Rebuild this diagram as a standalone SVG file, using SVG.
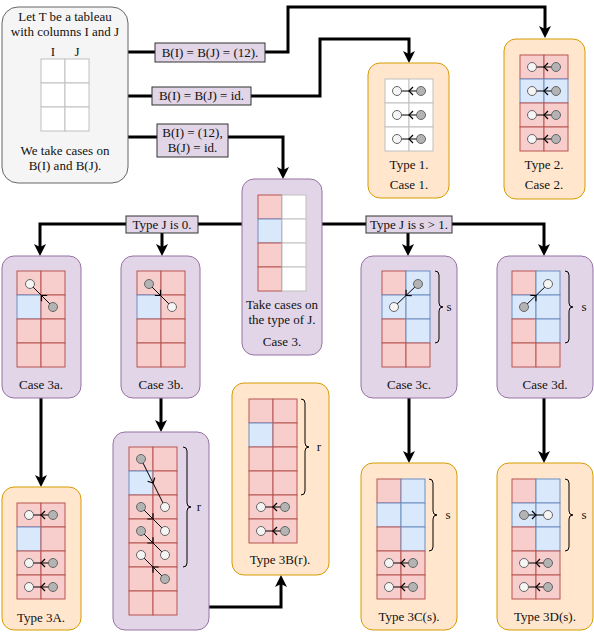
<svg xmlns="http://www.w3.org/2000/svg" width="594" height="633" viewBox="0 0 594 633">
<defs>
<style>
.t{font-family:"Liberation Serif",serif;font-size:13px;fill:#111;text-anchor:middle}
.r{fill:#f8cecc;stroke:#b85450;stroke-width:1}
.b{fill:#dae8fc;stroke:#6c8ebf;stroke-width:1}
.w{fill:#fff;stroke:#c0c0c0;stroke-width:1}
.cw{fill:#f5f5f5;stroke:#666;stroke-width:1}
.cg{fill:#b3b3b3;stroke:#666;stroke-width:1}
.pu{fill:#e1d5e7;stroke:#9673a6;stroke-width:1}
.or{fill:#ffe6cc;stroke:#d79b00;stroke-width:1}
.gr{fill:#f5f5f5;stroke:#666;stroke-width:1}
.lbl{fill:#e1d5e7;stroke:#333;stroke-width:1}
.conn{fill:none;stroke:#000;stroke-width:3;marker-end:url(#ah)}
.sa{fill:none;stroke:#000;stroke-width:1;marker-mid:url(#sm)}
.br{fill:none;stroke:#000;stroke-width:1}
</style>
<marker id="ah" markerUnits="userSpaceOnUse" viewBox="0 0 12 12" refX="6" refY="6" markerWidth="12" markerHeight="12" orient="auto">
<path d="M0,0 L12,6 L0,12 L3,6 Z" fill="#000"/>
</marker>
<marker id="sm" markerUnits="userSpaceOnUse" viewBox="-6 -6 12 12" refX="0" refY="0" markerWidth="12" markerHeight="12" orient="auto">
<path d="M-4,-4 L0,0 L-4,4" fill="none" stroke="#000" stroke-width="1.2"/>
</marker>
</defs>
<rect width="594" height="633" fill="#fff"/>

<g id="connectors">
<path class="conn" d="M128,52 H288 V7 H545 V32"/>
<path class="conn" d="M128,96 H320 V39 H409 V57"/>
<path class="conn" d="M128,137 H283 V173"/>
<path class="conn" d="M242,224 H40 V250"/>
<path class="conn" d="M162,224 V250"/>
<path class="conn" d="M322,224 H544 V250"/>
<path class="conn" d="M408,224 V250"/>
<path class="conn" d="M41,398 V481"/>
<path class="conn" d="M161,398 V426"/>
<path class="conn" d="M409,398 V457"/>
<path class="conn" d="M544,398 V457"/>
<path class="conn" d="M209,607 H281 V581"/>
<rect class="lbl" x="155" y="43" width="110" height="19"/>
<text class="t" x="210" y="57">B(I) = B(J) = (12).</text>
<rect class="lbl" x="152" y="87" width="99" height="18"/>
<text class="t" x="201.5" y="100">B(I) = B(J) = id.</text>
<rect class="lbl" x="157" y="124" width="71" height="33"/>
<text class="t" x="192.5" y="137">B(I) = (12),</text>
<text class="t" x="192.5" y="152">B(J) = id.</text>
<rect class="lbl" x="126" y="216" width="72" height="17"/>
<text class="t" x="162" y="229">Type J is 0.</text>
<rect class="lbl" x="366" y="216" width="86" height="17"/>
<text class="t" x="409" y="229">Type J is s &gt; 1.</text>
</g>

<g id="start">
<rect class="gr" x="2" y="7" width="126" height="176" rx="16"/>
<text class="t" x="65" y="21">Let T be a tableau</text>
<text class="t" x="65" y="36">with columns I and J</text>
<text class="t" x="53" y="56">I</text>
<text class="t" x="77" y="56">J</text>
<rect class="w" x="41" y="59" width="24" height="24"/><rect class="w" x="65" y="59" width="24" height="24"/>
<rect class="w" x="41" y="83" width="24" height="24"/><rect class="w" x="65" y="83" width="24" height="24"/>
<rect class="w" x="41" y="107" width="24" height="24"/><rect class="w" x="65" y="107" width="24" height="24"/>
<text class="t" x="65" y="155">We take cases on</text>
<text class="t" x="65" y="170">B(I) and B(J).</text>
</g>

<g id="type1">
<rect class="or" x="368" y="63" width="81" height="135" rx="12"/>
<rect class="w" x="385" y="79" width="24" height="24"/><rect class="w" x="409" y="79" width="24" height="24"/>
<rect class="w" x="385" y="103" width="24" height="24"/><rect class="w" x="409" y="103" width="24" height="24"/>
<rect class="w" x="385" y="127" width="24" height="24"/><rect class="w" x="409" y="127" width="24" height="24"/>
<path class="sa" d="M421,91 L409,91 L397,91"/><circle class="cw" cx="397" cy="91" r="4.5"/><circle class="cg" cx="421" cy="91" r="4.5"/>
<path class="sa" d="M421,115 L409,115 L397,115"/><circle class="cw" cx="397" cy="115" r="4.5"/><circle class="cg" cx="421" cy="115" r="4.5"/>
<path class="sa" d="M421,139 L409,139 L397,139"/><circle class="cw" cx="397" cy="139" r="4.5"/><circle class="cg" cx="421" cy="139" r="4.5"/>
<text class="t" x="409" y="169">Type 1.</text>
<text class="t" x="409" y="189">Case 1.</text>
</g>

<g id="type2">
<rect class="or" x="504" y="39" width="81" height="160" rx="12"/>
<rect class="r" x="520" y="55" width="24" height="24"/><rect class="r" x="544" y="55" width="24" height="24"/>
<rect class="b" x="520" y="79" width="24" height="24"/><rect class="b" x="544" y="79" width="24" height="24"/>
<rect class="r" x="520" y="103" width="24" height="24"/><rect class="r" x="544" y="103" width="24" height="24"/>
<rect class="r" x="520" y="127" width="24" height="24"/><rect class="r" x="544" y="127" width="24" height="24"/>
<path class="sa" d="M556,67 L544,67 L532,67"/><circle class="cw" cx="532" cy="67" r="4.5"/><circle class="cg" cx="556" cy="67" r="4.5"/>
<path class="sa" d="M556,91 L544,91 L532,91"/><circle class="cw" cx="532" cy="91" r="4.5"/><circle class="cg" cx="556" cy="91" r="4.5"/>
<path class="sa" d="M556,115 L544,115 L532,115"/><circle class="cw" cx="532" cy="115" r="4.5"/><circle class="cg" cx="556" cy="115" r="4.5"/>
<path class="sa" d="M556,139 L544,139 L532,139"/><circle class="cw" cx="532" cy="139" r="4.5"/><circle class="cg" cx="556" cy="139" r="4.5"/>
<text class="t" x="544" y="169">Type 2.</text>
<text class="t" x="544" y="189">Case 2.</text>
</g>

<g id="case3">
<rect class="pu" x="242" y="179" width="80" height="176" rx="12"/>
<rect class="r" x="258" y="195" width="24" height="24"/><rect class="w" x="282" y="195" width="24" height="24"/>
<rect class="b" x="258" y="219" width="24" height="24"/><rect class="w" x="282" y="219" width="24" height="24"/>
<rect class="r" x="258" y="243" width="24" height="24"/><rect class="w" x="282" y="243" width="24" height="24"/>
<rect class="r" x="258" y="267" width="24" height="24"/><rect class="w" x="282" y="267" width="24" height="24"/>
<text class="t" x="282" y="309">Take cases on</text>
<text class="t" x="282" y="324">the type of J.</text>
<text class="t" x="282" y="346">Case 3.</text>
</g>

<g id="case3a">
<rect class="pu" x="2" y="256" width="79" height="142" rx="12"/>
<rect class="r" x="17" y="271" width="24" height="24"/><rect class="r" x="41" y="271" width="24" height="24"/>
<rect class="b" x="17" y="295" width="24" height="24"/><rect class="r" x="41" y="295" width="24" height="24"/>
<rect class="r" x="17" y="319" width="24" height="24"/><rect class="r" x="41" y="319" width="24" height="24"/>
<rect class="r" x="17" y="343" width="24" height="24"/><rect class="r" x="41" y="343" width="24" height="24"/>
<path class="sa" d="M53,307 L41.5,295.5 L30,284"/><circle class="cw" cx="30" cy="284" r="4.5"/><circle class="cg" cx="53" cy="307" r="4.5"/>
<text class="t" x="41" y="389">Case 3a.</text>
</g>

<g id="case3b">
<rect class="pu" x="121" y="256" width="79" height="142" rx="12"/>
<rect class="r" x="137" y="271" width="24" height="24"/><rect class="r" x="161" y="271" width="24" height="24"/>
<rect class="b" x="137" y="295" width="24" height="24"/><rect class="r" x="161" y="295" width="24" height="24"/>
<rect class="r" x="137" y="319" width="24" height="24"/><rect class="r" x="161" y="319" width="24" height="24"/>
<rect class="r" x="137" y="343" width="24" height="24"/><rect class="r" x="161" y="343" width="24" height="24"/>
<path class="sa" d="M149,284 L160.5,295.5 L172,307"/><circle class="cg" cx="149" cy="284" r="4.5"/><circle class="cw" cx="172" cy="307" r="4.5"/>
<text class="t" x="161" y="389">Case 3b.</text>
</g>

<g id="case3c">
<rect class="pu" x="361" y="256" width="96" height="142" rx="12"/>
<rect class="r" x="382" y="271" width="24" height="24"/><rect class="b" x="406" y="271" width="24" height="24"/>
<rect class="b" x="382" y="295" width="24" height="24"/><rect class="b" x="406" y="295" width="24" height="24"/>
<rect class="r" x="382" y="319" width="24" height="24"/><rect class="b" x="406" y="319" width="24" height="24"/>
<rect class="r" x="382" y="343" width="24" height="24"/><rect class="r" x="406" y="343" width="24" height="24"/>
<path class="sa" d="M418,284 L406,295.5 L394,307"/><circle class="cg" cx="418" cy="284" r="4.5"/><circle class="cw" cx="394" cy="307" r="4.5"/>
<path class="br" d="M435,271 Q439,271 439,275 V303 Q439,307 443,307 Q439,307 439,311 V339 Q439,343 435,343"/>
<text class="t" x="449" y="311">s</text>
<text class="t" x="409" y="389">Case 3c.</text>
</g>

<g id="case3d">
<rect class="pu" x="497" y="256" width="96" height="142" rx="12"/>
<rect class="r" x="512" y="271" width="24" height="24"/><rect class="b" x="536" y="271" width="24" height="24"/>
<rect class="b" x="512" y="295" width="24" height="24"/><rect class="b" x="536" y="295" width="24" height="24"/>
<rect class="r" x="512" y="319" width="24" height="24"/><rect class="b" x="536" y="319" width="24" height="24"/>
<rect class="r" x="512" y="343" width="24" height="24"/><rect class="r" x="536" y="343" width="24" height="24"/>
<path class="sa" d="M524,307 L536,295.5 L548,284"/><circle class="cg" cx="524" cy="307" r="4.5"/><circle class="cw" cx="548" cy="284" r="4.5"/>
<path class="br" d="M565,271 Q569,271 569,275 V303 Q569,307 573,307 Q569,307 569,311 V339 Q569,343 565,343"/>
<text class="t" x="584" y="311">s</text>
<text class="t" x="545" y="389">Case 3d.</text>
</g>

<g id="type3A">
<rect class="or" x="2" y="487" width="79" height="143" rx="12"/>
<rect class="r" x="17" y="503" width="24" height="24"/><rect class="r" x="41" y="503" width="24" height="24"/>
<rect class="b" x="17" y="527" width="24" height="24"/><rect class="r" x="41" y="527" width="24" height="24"/>
<rect class="r" x="17" y="551" width="24" height="24"/><rect class="r" x="41" y="551" width="24" height="24"/>
<rect class="r" x="17" y="575" width="24" height="24"/><rect class="r" x="41" y="575" width="24" height="24"/>
<path class="sa" d="M53,515 L41,515 L29,515"/><circle class="cw" cx="29" cy="515" r="4.5"/><circle class="cg" cx="53" cy="515" r="4.5"/>
<path class="sa" d="M53,563 L41,563 L29,563"/><circle class="cw" cx="29" cy="563" r="4.5"/><circle class="cg" cx="53" cy="563" r="4.5"/>
<path class="sa" d="M53,587 L41,587 L29,587"/><circle class="cw" cx="29" cy="587" r="4.5"/><circle class="cg" cx="53" cy="587" r="4.5"/>
<text class="t" x="41" y="622">Type 3A.</text>
</g>

<g id="case3b-detail">
<rect class="pu" x="113" y="432" width="96" height="198" rx="12"/>
<rect class="r" x="129" y="447" width="24" height="24"/><rect class="r" x="153" y="447" width="24" height="24"/>
<rect class="b" x="129" y="471" width="24" height="24"/><rect class="r" x="153" y="471" width="24" height="24"/>
<rect class="r" x="129" y="495" width="24" height="24"/><rect class="r" x="153" y="495" width="24" height="24"/>
<rect class="r" x="129" y="519" width="24" height="24"/><rect class="r" x="153" y="519" width="24" height="24"/>
<rect class="r" x="129" y="543" width="24" height="24"/><rect class="r" x="153" y="543" width="24" height="24"/>
<rect class="r" x="129" y="567" width="24" height="24"/><rect class="r" x="153" y="567" width="24" height="24"/>
<rect class="r" x="129" y="591" width="24" height="24"/><rect class="r" x="153" y="591" width="24" height="24"/>
<path class="sa" d="M141,459 L153,483 L165,507"/>
<path class="sa" d="M141,507 L153,519 L165,531"/>
<path class="sa" d="M141,531 L153,543 L165,555"/>
<path class="sa" d="M165,579 L153,567 L141,555"/>
<circle class="cg" cx="141" cy="459" r="4.5"/><circle class="cw" cx="165" cy="507" r="4.5"/>
<circle class="cg" cx="141" cy="507" r="4.5"/><circle class="cw" cx="165" cy="531" r="4.5"/>
<circle class="cg" cx="141" cy="531" r="4.5"/><circle class="cw" cx="165" cy="555" r="4.5"/>
<circle class="cw" cx="141" cy="555" r="4.5"/><circle class="cg" cx="165" cy="579" r="4.5"/>
<path class="br" d="M183,447 Q187,447 187,451 V503 Q187,507 191,507 Q187,507 187,511 V563 Q187,567 183,567"/>
<text class="t" x="199" y="511">r</text>
</g>

<g id="type3B">
<rect class="or" x="232" y="383" width="97" height="192" rx="12"/>
<rect class="r" x="249" y="399" width="24" height="24"/><rect class="r" x="273" y="399" width="24" height="24"/>
<rect class="b" x="249" y="423" width="24" height="24"/><rect class="r" x="273" y="423" width="24" height="24"/>
<rect class="r" x="249" y="447" width="24" height="24"/><rect class="r" x="273" y="447" width="24" height="24"/>
<rect class="r" x="249" y="471" width="24" height="24"/><rect class="r" x="273" y="471" width="24" height="24"/>
<rect class="r" x="249" y="495" width="24" height="24"/><rect class="r" x="273" y="495" width="24" height="24"/>
<rect class="r" x="249" y="519" width="24" height="24"/><rect class="r" x="273" y="519" width="24" height="24"/>
<path class="sa" d="M285,507 L273,507 L261,507"/><circle class="cw" cx="261" cy="507" r="4.5"/><circle class="cg" cx="285" cy="507" r="4.5"/>
<path class="sa" d="M285,531 L273,531 L261,531"/><circle class="cw" cx="261" cy="531" r="4.5"/><circle class="cg" cx="285" cy="531" r="4.5"/>
<path class="br" d="M301,399 Q305,399 305,403 V443 Q305,447 309,447 Q305,447 305,451 V491 Q305,495 301,495"/>
<text class="t" x="319" y="451">r</text>
<text class="t" x="280" y="564">Type 3B(r).</text>
</g>

<g id="type3C">
<rect class="or" x="361" y="463" width="96" height="167" rx="12"/>
<rect class="r" x="377" y="479" width="24" height="24"/><rect class="b" x="401" y="479" width="24" height="24"/>
<rect class="b" x="377" y="503" width="24" height="24"/><rect class="b" x="401" y="503" width="24" height="24"/>
<rect class="r" x="377" y="527" width="24" height="24"/><rect class="b" x="401" y="527" width="24" height="24"/>
<rect class="r" x="377" y="551" width="24" height="24"/><rect class="r" x="401" y="551" width="24" height="24"/>
<rect class="r" x="377" y="575" width="24" height="24"/><rect class="r" x="401" y="575" width="24" height="24"/>
<path class="sa" d="M413,563 L401,563 L389,563"/><circle class="cw" cx="389" cy="563" r="4.5"/><circle class="cg" cx="413" cy="563" r="4.5"/>
<path class="sa" d="M413,587 L401,587 L389,587"/><circle class="cw" cx="389" cy="587" r="4.5"/><circle class="cg" cx="413" cy="587" r="4.5"/>
<path class="br" d="M429,479 Q433,479 433,483 V511 Q433,515 437,515 Q433,515 433,519 V547 Q433,551 429,551"/>
<text class="t" x="448" y="519">s</text>
<text class="t" x="409" y="621">Type 3C(s).</text>
</g>

<g id="type3D">
<rect class="or" x="497" y="463" width="96" height="167" rx="12"/>
<rect class="r" x="512" y="479" width="24" height="24"/><rect class="b" x="536" y="479" width="24" height="24"/>
<rect class="b" x="512" y="503" width="24" height="24"/><rect class="b" x="536" y="503" width="24" height="24"/>
<rect class="r" x="512" y="527" width="24" height="24"/><rect class="b" x="536" y="527" width="24" height="24"/>
<rect class="r" x="512" y="551" width="24" height="24"/><rect class="r" x="536" y="551" width="24" height="24"/>
<rect class="r" x="512" y="575" width="24" height="24"/><rect class="r" x="536" y="575" width="24" height="24"/>
<path class="sa" d="M524,515 L536,515 L548,515"/><circle class="cg" cx="524" cy="515" r="4.5"/><circle class="cw" cx="548" cy="515" r="4.5"/>
<path class="sa" d="M548,563 L536,563 L524,563"/><circle class="cw" cx="524" cy="563" r="4.5"/><circle class="cg" cx="548" cy="563" r="4.5"/>
<path class="sa" d="M548,587 L536,587 L524,587"/><circle class="cw" cx="524" cy="587" r="4.5"/><circle class="cg" cx="548" cy="587" r="4.5"/>
<path class="br" d="M565,479 Q569,479 569,483 V511 Q569,515 573,515 Q569,515 569,519 V547 Q569,551 565,551"/>
<text class="t" x="584" y="519">s</text>
<text class="t" x="545" y="621">Type 3D(s).</text>
</g>
</svg>
